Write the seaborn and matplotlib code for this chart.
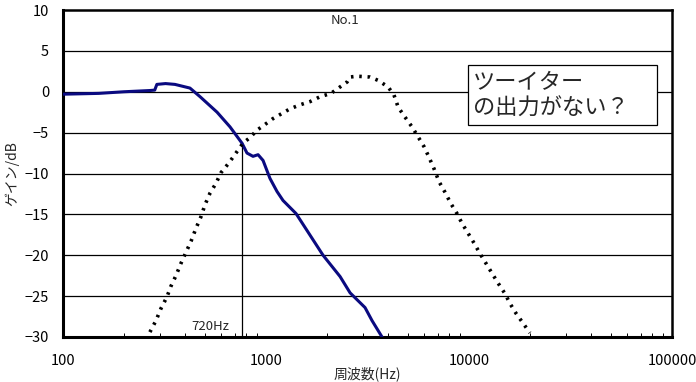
import matplotlib
matplotlib.use("Agg")
import matplotlib.pyplot as plt
import matplotlib.ticker as mticker
import seaborn as sns
import pandas as pd

# woofer response (solid navy)
woofer_hz = [100, 150, 200, 268, 283, 290, 320, 356, 422, 473, 574, 665, 762, 806,
             863, 914, 967, 1046, 1133, 1213, 1406, 1910, 2316, 2596, 3075, 3330, 3729]
woofer_db = [-0.3, -0.2, 0.0, 0.15, 0.2, 0.9, 1.0, 0.9, 0.45, -0.6, -2.5, -4.3, -6.3, -7.5,
             -7.9, -7.7, -8.4, -10.6, -12.2, -13.3, -14.9, -20.0, -22.6, -24.6, -26.4, -28.0, -30.0]

# tweeter response (dotted black)
tweeter_hz = [268, 287, 304, 325, 340, 360, 381, 404, 427, 452, 478, 501, 530, 567, 600,
              657, 711, 770, 834, 903, 989, 1080, 1190, 1310, 1470, 1650, 1850, 2090, 2320,
              2510, 2590, 2810, 3250, 3560, 3990, 4270, 4480, 4840, 5240, 5610, 6000, 6350,
              6720, 7120, 7620, 8150, 8730, 9240, 9890, 10580, 11330, 12130, 12980, 13900,
              15040, 15920, 17040, 18450, 19950]
tweeter_db = [-29.4, -28.0, -26.5, -25.1, -23.8, -22.5, -21.0, -19.6, -18.3, -16.7, -15.3,
              -13.8, -12.4, -11.2, -9.9, -8.7, -7.5, -6.3, -5.6, -4.7, -4.0, -3.3, -2.7,
              -2.1, -1.6, -1.2, -0.6, -0.2, 0.6, 1.2, 1.8, 1.9, 1.8, 1.4, 0.6, -0.4, -1.9,
              -3.1, -4.3, -5.5, -6.7, -8.0, -9.4, -11.0, -12.3, -13.7, -14.9, -16.1, -17.3,
              -18.5, -19.8, -21.0, -22.2, -23.4, -24.7, -25.9, -27.1, -28.3, -29.5]

crossover_hz = 760
crossover_db = -6.3
x_ticks = [100, 1000, 10000, 100000]
y_ticks = [-30, -25, -20, -15, -10, -5, 0, 5, 10]

sns.set_style("white")
plt.rcParams['font.family'] = ['Noto Sans CJK JP', 'DejaVu Sans']

df_w = pd.DataFrame({'hz': woofer_hz, 'db': woofer_db})
df_t = pd.DataFrame({'hz': tweeter_hz, 'db': tweeter_db})

fig = plt.figure(figsize=(6.96, 3.82), dpi=100)
ax = fig.add_axes([63/696, 1 - 337/382, (672 - 63)/696, (337 - 10)/382])

for y in y_ticks[1:-1]:
    ax.axhline(y, color='black', lw=0.9, zorder=1)
ax.plot([crossover_hz, crossover_hz], [crossover_db, -30], color='black', lw=0.9, zorder=1)

sns.lineplot(data=df_w, x='hz', y='db', ax=ax, color='#0a0a80', lw=2.2,
             sort=False, estimator=None, zorder=3)
sns.lineplot(data=df_t, x='hz', y='db', ax=ax, color='black', lw=2.6,
             linestyle=(0, (0.7, 1.6)), sort=False, estimator=None, zorder=3)

ax.set_xscale('log')
ax.set_xlim(100, 100000)
ax.set_ylim(-30, 10)
ax.set_xticks(x_ticks)
ax.xaxis.set_major_formatter(mticker.FuncFormatter(lambda v, p: f"{int(v)}"))
ax.xaxis.set_minor_formatter(mticker.NullFormatter())
ax.set_yticks(y_ticks)
ax.tick_params(axis='x', which='major', direction='in', length=5, width=0.9,
               labelsize=10.5, pad=12, colors='black')
ax.tick_params(axis='x', which='minor', direction='in', length=3, width=0.7,
               bottom=True, colors='black')
ax.tick_params(axis='y', length=0, labelsize=10.5, pad=10, colors='black')

for side in ['left', 'bottom']:
    ax.spines[side].set_linewidth(2.2)
for side in ['top', 'right']:
    ax.spines[side].set_linewidth(1.8)
for s in ax.spines.values():
    s.set_color('black')

ax.set_xlabel('')
ax.set_ylabel('ゲイン/dB', fontsize=10, labelpad=4)
fig.text(367/696, 1 - 374/382, '周波数(Hz)', fontsize=10, ha='center', va='center')

ax.text(2450, 8.7, 'No.1', fontsize=9.5, ha='center', va='center')
ax.text(530, -28.7, '720Hz', fontsize=9.5, ha='center', va='center')
ax.text(10500, -0.4, 'ツーイター\nの出力がない？　', fontsize=16, ha='left', va='center',
        linespacing=1.15,
        bbox=dict(boxstyle='square,pad=0.25', fc='white', ec='black', lw=0.9))

fig.savefig('out.png', dpi=100)
